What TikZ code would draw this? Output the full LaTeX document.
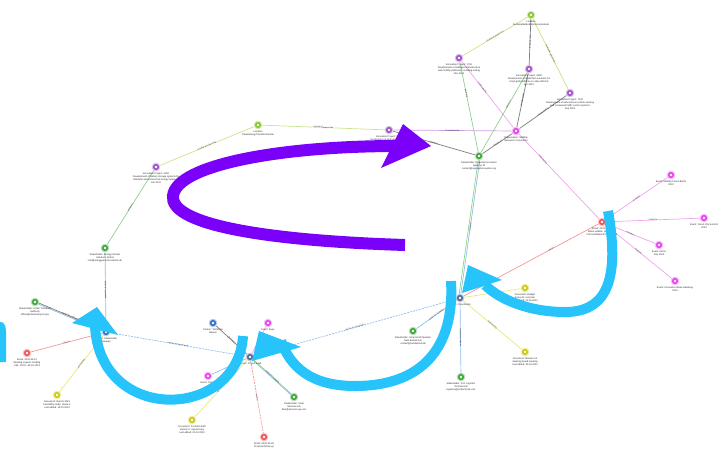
\documentclass[tikz,border=0pt]{standalone}
\usepackage{fontspec}
\setmainfont{Liberation Sans}
\usetikzlibrary{calc}
\pgfdeclarelayer{background}
\pgfsetlayers{background,main}

% node colours
\definecolor{cLime}{RGB}{132,200,40}
\definecolor{cGreen}{RGB}{60,165,55}
\definecolor{cPurple}{RGB}{160,80,200}
\definecolor{cMagenta}{RGB}{232,64,240}
\definecolor{cRed}{RGB}{245,80,80}
\definecolor{cYellow}{RGB}{205,200,20}
\definecolor{cBlue}{RGB}{50,110,200}
\definecolor{cSteel}{RGB}{80,105,150}
% edge colours
\definecolor{eLime}{RGB}{200,230,140}
\definecolor{eGreen}{RGB}{140,210,140}
\definecolor{ePink}{RGB}{238,165,238}
\definecolor{eBlue}{RGB}{145,190,235}
\definecolor{eRed}{RGB}{245,150,150}
\definecolor{eYellow}{RGB}{232,232,125}
\definecolor{eGray}{RGB}{125,125,125}
% annotation arrows
\definecolor{arrowViolet}{RGB}{122,0,250}
\definecolor{arrowCyan}{RGB}{38,196,250}

\tikzset{
  gnode/.style={circle, minimum size=7.5pt, inner sep=0pt, line width=1pt},
  lbl/.style={font=\fontsize{2.4}{2.9}\selectfont, align=center, text=black!85, inner sep=0pt},
  elbl/.style={font=\fontsize{2.1}{2.5}\selectfont, text=black!75, inner sep=0.3pt, sloped},
  edge/.style={line width=0.7pt},
  dashedge/.style={line width=0.7pt, dash pattern=on 2pt off 1pt},
  bigarrow/.style={line width=#1, line cap=butt},
}

% graph node: name, position, colour, label text
\newcommand{\gnode}[4]{%
  \node[gnode, fill=#3, draw=#3!35] (#1) at (#2) {};
  \fill[white] (#1) circle (1.3);
  \node[lbl, anchor=north] at ($(#1)+(0,5.5)$) {#4};}

\begin{document}
\begin{tikzpicture}[x=1pt,y=-1pt]
\useasboundingbox (0,0) rectangle (718,448);

% ---- nodes: upper cluster ----
\gnode{n1}{531,15}{cLime}{Location\\ SustainableMobilityInnovationHub}
\gnode{n2}{459,58}{cPurple}{Innovation Project: 1719\\ Development of intelligent infrastructure\\ and mobility platforms, including testing\\ Nov 2021}
\gnode{n3}{529,69}{cPurple}{Innovation Project: 8830\\ Development of digital twin solutions for\\ smart grid platforms in urban districts\\ Apr 2022}
\gnode{n4}{570,93}{cPurple}{Innovation Project: 7142\\ Development of autonomous vehicle sensing\\ and connected traffic control systems\\ Sep 2021}
\gnode{n5}{516,131}{cMagenta}{Organization: Mobility\\ Research Consortium}
\gnode{n6}{479,156}{cGreen}{Stakeholder: Regional Innovation\\ Agency Ltd\\ contact@regionalinnovation.org}
\gnode{n7}{389,130}{cPurple}{Innovation Project: 5023\\ Deployment of hydrogen refuelling\\ network for regional logistics fleets\\ Mar 2022}
\gnode{n8}{258,125}{cLime}{Location\\ CleanEnergyTransitionCluster}
\gnode{n9}{156,167}{cPurple}{Innovation Project: 3318\\ Development of battery storage systems for\\ industrial and commercial energy networks\\ Jan 2022}
\gnode{n10}{105,248}{cGreen}{Stakeholder: Energy Partner\\ Solutions GmbH\\ info@energypartnersolutions.de}

% ---- nodes: hubs ----
\gnode{h3}{106,332}{cBlue}{Person: Stakeholder\\ Manager}
\gnode{h2}{250,357}{cSteel}{Person: Project Lead}
\gnode{h1}{460,298}{cSteel}{Person: Coordinator}
\gnode{r}{602,222}{cRed}{Email: 2023-07-01\\ Status update: pilot launch\\ Call scheduled for next week}

% ---- nodes around the left hub ----
\gnode{lg}{35,302}{cGreen}{Stakeholder: Urban Transport\\ Authority\\ office@urbantransport.gov}
\gnode{lr}{27,353}{cRed}{Email: 2023-04-12\\ Meeting request: funding\\ Call: 10:30 +49 30 2201}
\gnode{ly}{57,395}{cYellow}{Document: Report 2023\\ Feasibility study: phase 2\\ Last edited: 14.03.2023}

% ---- nodes around the middle hub ----
\gnode{b1}{213,323}{cBlue}{Person: Technical\\ Advisor}
\gnode{m1}{268,323}{cMagenta}{Event: Expo}
\gnode{m2}{208,376}{cMagenta}{Event: Kickoff}
\gnode{g2}{294,397}{cGreen}{Stakeholder: Fleet\\ Services AG\\ fleet@services-ag.com}
\gnode{y2}{192,420}{cYellow}{Document: Contract draft\\ Version 3: signed copy\\ Last edited: 02.02.2023}
\gnode{r2}{264,437}{cRed}{Email: 2023-05-08\\ Proposal follow-up}

% ---- nodes around the right hub ----
\gnode{g3}{413,331}{cGreen}{Stakeholder: Smart Grid Operator\\ Netz Betrieb AG\\ contact@netzbetrieb.de}
\gnode{g4}{461,377}{cGreen}{Stakeholder: Port Logistics\\ Terminal Ltd\\ logistics@portterminal.com}
\gnode{y3}{525,288}{cYellow}{Document: Budget\\ Annex B: cost plan\\ Last edited: 21.06.2023}
\gnode{y4}{525,352}{cYellow}{Document: Minutes 04\\ Steering board meeting\\ Last edited: 30.06.2023}
\gnode{p1}{671,175}{cMagenta}{Event: Mobility Forum Berlin\\ 2023}
\gnode{p2}{704,218}{cMagenta}{Event: Smart City Summit\\ 2023}
\gnode{p3}{659,245}{cMagenta}{Event: Demo\\ Day 2023}
\gnode{p4}{675,281}{cMagenta}{Event: Innovation Week Hamburg\\ 2023}

% ---- relationships ----
\begin{pgfonlayer}{background}
\draw[edge, eLime]  (n1) -- node[elbl]{located at project site} (n2);
\draw[edge, eGray]  (n1) -- node[elbl]{located at site} (n3);
\draw[edge, eLime]  (n1) -- node[elbl]{located at project site} (n4);
\draw[edge, eGreen] (n2) -- node[elbl, pos=0.35]{partner in} (n6);
\draw[edge, ePink]  (n2) -- node[elbl, pos=0.4]{coordinated by} (n5);
\draw[edge, eGray]  (n3) -- node[elbl]{coordinated by} (n5);
\draw[edge, eGreen] (n3) -- node[elbl, pos=0.4]{partner in} (n6);
\draw[edge, eGray]  (n4) -- node[elbl]{coordinated by} (n5);
\draw[edge, eGray]  (n5) -- node[elbl]{member of} (n6);
\draw[edge, cPurple!55] (n7) -- node[elbl]{coordinated by} (n5);
\draw[edge, eGray]  (n7) -- node[elbl]{partner in} (n6);
\draw[edge, eLime]  (n8) -- node[elbl]{located at project site} (n7);
\draw[edge, eLime]  (n8) -- node[elbl]{located at project site} (n9);
\draw[edge, eGreen] (n9) -- node[elbl]{partner in} (n10);
\draw[edge, eBlue]  (n10) -- node[elbl]{works for company} (h3);
\draw[edge, eGreen] ([xshift=-0.8pt]n6.south) -- ([xshift=-0.8pt]h1.north);
\draw[edge, eBlue]  ([xshift=0.8pt]n6.south) -- node[elbl]{works for} ([xshift=0.8pt]h1.north);
\draw[edge, ePink]  (n5) -- node[elbl, pos=0.3]{attended by} (r);

\draw[dashedge, eBlue] (h3) -- node[elbl]{reports to project lead} (h2);
\draw[edge, eBlue]  ([yshift=-0.6pt]h3.center) -- ([yshift=-0.6pt]lg.center);
\draw[edge, eGray]  ([yshift=0.6pt]h3.center) -- node[elbl]{works for company} ([yshift=0.6pt]lg.center);
\draw[edge, eRed]   (h3) -- node[elbl]{sent to} (lr);
\draw[edge, eYellow] (h3) -- node[elbl]{authored by} (ly);

\draw[edge, eGray]  (h2) -- node[elbl]{advised by} (b1);
\draw[edge, ePink]  (h2) -- (m1);
\draw[edge, eBlue]  (h2) -- (m2);
\draw[edge, eBlue]  ([xshift=-0.6pt]h2.center) -- ([xshift=-0.6pt]g2.center);
\draw[edge, eGreen] ([xshift=0.6pt]h2.center) -- node[elbl]{works for company} ([xshift=0.6pt]g2.center);
\draw[edge, eYellow] (h2) -- node[elbl]{authored by} (y2);
\draw[dashedge, eRed] (h2) -- node[elbl]{sent to} (r2);
\draw[dashedge, eBlue] (h2) -- node[elbl]{reports to coordinator} (h1);

\draw[edge, eBlue]  (h1) -- node[elbl]{works for company} (g3);
\draw[edge, eBlue]  (h1) -- node[elbl]{works for company} (g4);
\draw[edge, eYellow] (h1) -- node[elbl]{authored} (y3);
\draw[edge, eYellow] (h1) -- node[elbl]{authored by} (y4);
\draw[edge, eRed]   (h1) -- node[elbl, pos=0.65]{sent to} (r);

\draw[edge, ePink] (r) -- node[elbl]{invited to} (p1);
\draw[edge, ePink] (r) -- node[elbl]{invited to} (p2);
\draw[edge, ePink] (r) -- node[elbl]{invited to} (p3);
\draw[edge, ePink] (r) -- node[elbl]{invited to} (p4);
\end{pgfonlayer}

% ---- violet loop arrow ----
\draw[bigarrow=12pt, arrowViolet] (405,245) .. controls (250,240) and (170,222) .. (173,196)
      .. controls (176,165) and (280,146) .. (398,146);
\fill[arrowViolet] (403,124) -- (431,146) -- (381,168) -- cycle;

% ---- cyan hop arrows ----
\draw[bigarrow=10pt, arrowCyan] (243,336) .. controls (238,420) and (100,425) .. (95,326);
\fill[arrowCyan] (97,307) -- (118,335) -- (72,323) -- cycle;

\draw[bigarrow=10pt, arrowCyan] (451,281) .. controls (455,350) and (420,386) .. (355,386)
      .. controls (310,386) and (290,366) .. (281,341);
\fill[arrowCyan] (259,331) -- (301,347) -- (252,361) -- cycle;

\draw[bigarrow=10pt, arrowCyan] (608,211) .. controls (622,290) and (600,312) .. (565,312)
      .. controls (530,312) and (500,300) .. (485,285);
\fill[arrowCyan] (468,265) -- (502,280) -- (462,293) -- cycle;

% end of a further cyan arrow at the left border
\fill[arrowCyan] (0,362) -- (0,322) -- (1,322) .. controls (4,322) and (6,326) .. (6,332) -- (6,362) -- cycle;
\end{tikzpicture}
\end{document}
